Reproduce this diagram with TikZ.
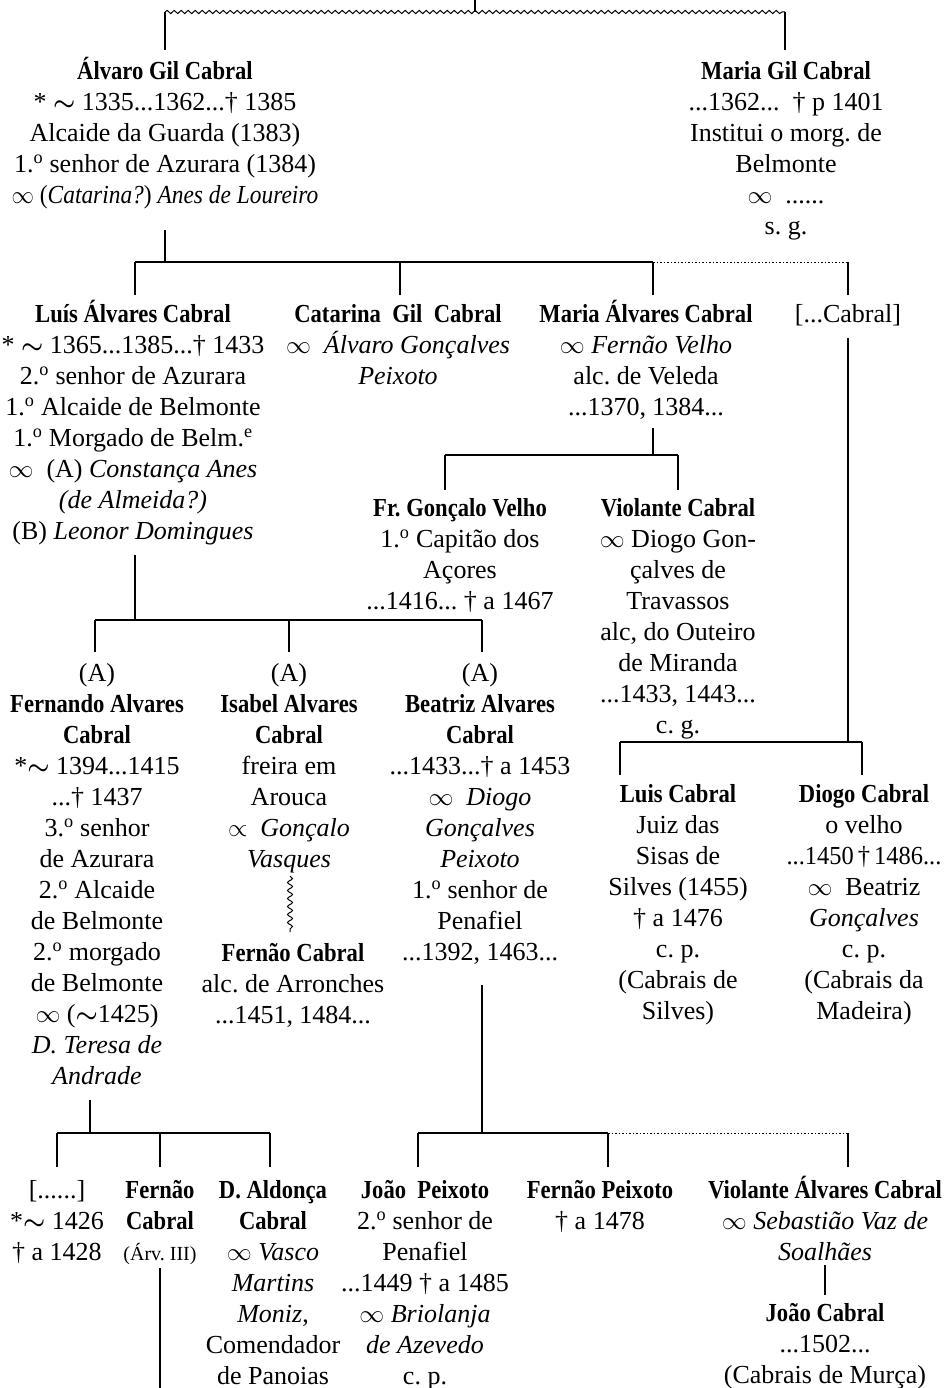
\documentclass[tikz,border=0pt]{standalone}
\usepackage{fontspec}
\usepackage{graphicx}
\setmainfont{Liberation Serif}[BoldFeatures={FakeStretch=0.87}]
\usetikzlibrary{decorations.pathmorphing}
\frenchspacing

% first-line strut, so that every box starts at a fixed height above its first baseline
\newcommand\fl{\rule{0pt}{25pt}}
% ordinal: 1.o, 2.o ...
\newcommand\ord[1]{#1.\textsuperscript{o}}
% "circa" sign and marriage sign
\newcommand\circa{{\boldmath$\sim$}}
\newcommand\wed{$\infty$}
% horizontally condensed line
\newcommand\narrow[2]{\scalebox{#1}[1]{#2}}

\tikzset{
  person/.style={anchor=north, align=center, inner sep=0pt,
                 font=\fontsize{26}{31}\selectfont},
  link/.style={line width=1.3pt},
  dotlink/.style={line width=1pt, dash pattern=on 1.5pt off 2pt},
  wavy/.style={line width=1pt, decorate,
               decoration={snake, amplitude=1.6pt, segment length=7pt}},
}

\begin{document}
\begin{tikzpicture}[x=1pt,y=-1pt]
\useasboundingbox (0,0) rectangle (947,1388);

% ---------- generation I
\node[person] (alvaro) at (165,54) {\fl\textbf{Álvaro Gil Cabral}\\
  * \circa{} 1335...1362...† 1385\\
  Alcaide da Guarda (1383)\\
  \ord{1} senhor de Azurara (1384)\\
  \narrow{0.9}{\wed{} (\textit{Catarina?}) \textit{Anes de Loureiro}}};
\node[person] (mariagil) at (786,54) {\fl\textbf{Maria Gil Cabral}\\
  ...1362... \ † p 1401\\
  Institui o morg. de\\
  Belmonte\\
  \wed{} \ ......\\
  s. g.};

% ---------- generation II
\node[person] (luis) at (133,297) {\fl\textbf{Luís Álvares Cabral}\\
  * \circa{} 1365...1385...† 1433\\
  \ord{2} senhor de Azurara\\
  \ord{1} Alcaide de Belmonte\\
  \ord{1} Morgado de Belm.\textsuperscript{e}\\
  \wed{} \ (A) \textit{Constança Anes}\\
  \textit{(de Almeida?)}\\
  (B) \textit{Leonor Domingues}};
\node[person] (catarina) at (398,297) {\fl\textbf{Catarina \ Gil \ Cabral}\\
  \wed{} \ \textit{Álvaro Gonçalves}\\
  \textit{Peixoto}};
\node[person] (mariaalv) at (646,297) {\fl\textbf{Maria Álvares Cabral}\\
  \wed{} \textit{Fernão Velho}\\
  alc. de Veleda\\
  ...1370, 1384...};
\node[person] (anon) at (848,297) {\fl[...Cabral]};

% ---------- children of Maria Álvares
\node[person] (goncalo) at (460,491) {\fl\textbf{Fr. Gonçalo Velho}\\
  \ord{1} Capitão dos\\
  Açores\\
  ...1416... † a 1467};
\node[person] (violante) at (678,491) {\fl\textbf{Violante Cabral}\\
  \wed{} Diogo Gon-\\
  çalves de\\
  Travassos\\
  alc, do Outeiro\\
  de Miranda\\
  ...1433, 1443...\\
  c. g.};

% ---------- children of Luís
\node[person] (fernando) at (97,656) {\fl(A)\\
  \textbf{Fernando Alvares}\\
  \textbf{Cabral}\\
  *\circa{} 1394...1415\\
  ...† 1437\\
  \ord{3} senhor\\
  de Azurara\\
  \ord{2} Alcaide\\
  de Belmonte\\
  \ord{2} morgado\\
  de Belmonte\\
  \wed{} (\circa1425)\\
  \textit{D. Teresa de}\\
  \textit{Andrade}};
\node[person] (isabel) at (289,656) {\fl(A)\\
  \textbf{Isabel Alvares}\\
  \textbf{Cabral}\\
  freira em\\
  Arouca\\
  $\propto$ \ \textit{Gonçalo}\\
  \textit{Vasques}};
\node[person] (fernaoc) at (293,936) {\fl\textbf{Fernão Cabral}\\
  alc. de Arronches\\
  ...1451, 1484...};
\node[person] (beatriz) at (480,656) {\fl(A)\\
  \textbf{Beatriz Alvares}\\
  \textbf{Cabral}\\
  ...1433...† a 1453\\
  \wed{} \ \textit{Diogo}\\
  \textit{Gonçalves}\\
  \textit{Peixoto}\\
  \ord{1} senhor de\\
  Penafiel\\
  ...1392, 1463...};

% ---------- children of [...Cabral]
\node[person] (luisc) at (678,777) {\fl\textbf{Luis Cabral}\\
  Juiz das\\
  Sisas de\\
  Silves (1455)\\
  † a 1476\\
  c. p.\\
  (Cabrais de\\
  Silves)};
\node[person] (diogo) at (864,777) {\fl\textbf{Diogo Cabral}\\
  o velho\\
  \narrow{0.94}{...1450\,†\,1486...}\\
  \wed{} \ Beatriz\\
  \textit{Gonçalves}\\
  c. p.\\
  (Cabrais da\\
  Madeira)};

% ---------- last generation
\node[person] (anon2) at (57,1173) {\fl[......]\\
  *\circa{} 1426\\
  † a 1428};
\node[person] (fernao) at (160,1173) {\fl\textbf{Fernão}\\
  \textbf{Cabral}\\
  {\fontsize{20}{31}\selectfont(Árv. III)}};
\node[person] (aldonca) at (273,1173) {\fl\textbf{D. Aldonça}\\
  \textbf{Cabral}\\
  \wed{} \textit{Vasco}\\
  \textit{Martins}\\
  \textit{Moniz},\\
  Comendador\\
  de Panoias};
\node[person] (joao) at (425,1173) {\fl\textbf{João \ Peixoto}\\
  \ord{2} senhor de\\
  Penafiel\\
  ...1449 † a 1485\\
  \wed{} \textit{Briolanja}\\
  \textit{de Azevedo}\\
  c. p.};
\node[person] (fernaop) at (600,1173) {\fl\textbf{Fernão Peixoto}\\
  † a 1478};
\node[person] (violante2) at (825,1173) {\fl\textbf{Violante Álvares Cabral}\\
  \wed{} \textit{Sebastião Vaz de}\\
  \textit{Soalhães}};
\node[person] (joaoc) at (825,1296) {\fl\textbf{João Cabral}\\
  ...1502...\\
  (Cabrais de Murça)};

% ---------- connectors: generation I
\coordinate (root) at (475,0);
\coordinate (rootbar) at (475,12);
\coordinate (barL) at (165,12);
\coordinate (barR) at (785,12);
\coordinate (alvaroIn) at (165,50);
\coordinate (mariagilIn) at (785,50);
\draw[link] (root) -- (rootbar);
\draw[wavy] (barL) -- (barR);
\draw[link] (barL) -- (alvaroIn);
\draw[link] (barR) -- (mariagilIn);

% generation II
\coordinate (alvaroOut) at (165,230);
\coordinate (g2stem) at (165,262);
\coordinate (g2a) at (135,262);
\coordinate (g2b) at (400,262);
\coordinate (g2c) at (653,262);
\coordinate (g2d) at (848,262);
\coordinate (luisIn) at (135,295);
\coordinate (catarinaIn) at (400,295);
\coordinate (mariaalvIn) at (653,295);
\coordinate (anonIn) at (848,295);
\draw[link] (alvaroOut) -- (g2stem);
\draw[link] (g2a) -- (g2c);
\draw[dotlink] (g2c) -- (g2d);
\draw[link] (g2a) -- (luisIn);
\draw[link] (g2b) -- (catarinaIn);
\draw[link] (g2c) -- (mariaalvIn);
\draw[link] (g2d) -- (anonIn);

% children of Maria Álvares
\coordinate (mariaalvOut) at (653,428);
\coordinate (g3stem) at (653,455);
\coordinate (g3a) at (445,455);
\coordinate (g3b) at (678,455);
\coordinate (goncaloIn) at (445,490);
\coordinate (violanteIn) at (678,490);
\draw[link] (mariaalvOut) -- (g3stem);
\draw[link] (g3a) -- (g3b);
\draw[link] (g3a) -- (goncaloIn);
\draw[link] (g3b) -- (violanteIn);

% children of [...Cabral]
\coordinate (anonOut) at (848,338);
\coordinate (g4stem) at (848,742);
\coordinate (g4a) at (620,742);
\coordinate (g4b) at (862,742);
\coordinate (luiscIn) at (620,775);
\coordinate (diogoIn) at (862,775);
\draw[link] (anonOut) -- (g4stem);
\draw[link] (g4a) -- (g4b);
\draw[link] (g4a) -- (luiscIn);
\draw[link] (g4b) -- (diogoIn);

% children of Luís
\coordinate (luisOut) at (135,555);
\coordinate (g5stem) at (135,620);
\coordinate (g5a) at (95,620);
\coordinate (g5b) at (289,620);
\coordinate (g5c) at (482,620);
\coordinate (fernandoIn) at (95,652);
\coordinate (isabelIn) at (289,652);
\coordinate (beatrizIn) at (482,652);
\draw[link] (luisOut) -- (g5stem);
\draw[link] (g5a) -- (g5c);
\draw[link] (g5a) -- (fernandoIn);
\draw[link] (g5b) -- (isabelIn);
\draw[link] (g5c) -- (beatrizIn);

% Isabel's irregular line of descent
\coordinate (isabelOut) at (290,876);
\coordinate (fernaocIn) at (290,932);
\draw[wavy, decoration={snake, amplitude=2.4pt, segment length=8pt}] (isabelOut) -- (fernaocIn);

% children of Beatriz
\coordinate (beatrizOut) at (482,985);
\coordinate (g6stem) at (482,1133);
\coordinate (g6a) at (418,1133);
\coordinate (g6b) at (608,1133);
\coordinate (g6c) at (848,1133);
\coordinate (joaoIn) at (418,1167);
\coordinate (fernaopIn) at (608,1167);
\coordinate (violante2In) at (848,1167);
\draw[link] (beatrizOut) -- (g6stem);
\draw[link] (g6a) -- (g6b);
\draw[dotlink] (g6b) -- (g6c);
\draw[link] (g6a) -- (joaoIn);
\draw[link] (g6b) -- (fernaopIn);
\draw[link] (g6c) -- (violante2In);

% children of Fernando
\coordinate (fernandoOut) at (90,1100);
\coordinate (g7stem) at (90,1133);
\coordinate (g7a) at (57,1133);
\coordinate (g7b) at (160,1133);
\coordinate (g7c) at (270,1133);
\coordinate (anon2In) at (57,1167);
\coordinate (fernaoIn) at (160,1167);
\coordinate (aldoncaIn) at (270,1167);
\draw[link] (fernandoOut) -- (g7stem);
\draw[link] (g7a) -- (g7c);
\draw[link] (g7a) -- (anon2In);
\draw[link] (g7b) -- (fernaoIn);
\draw[link] (g7c) -- (aldoncaIn);

% continuation below Fernão Cabral, and Violante's son
\coordinate (fernaoOut) at (160,1268);
\coordinate (fernaoCont) at (160,1388);
\draw[link] (fernaoOut) -- (fernaoCont);
\coordinate (violante2Out) at (825,1265);
\coordinate (joaocIn) at (825,1295);
\draw[link] (violante2Out) -- (joaocIn);
\end{tikzpicture}
\end{document}
